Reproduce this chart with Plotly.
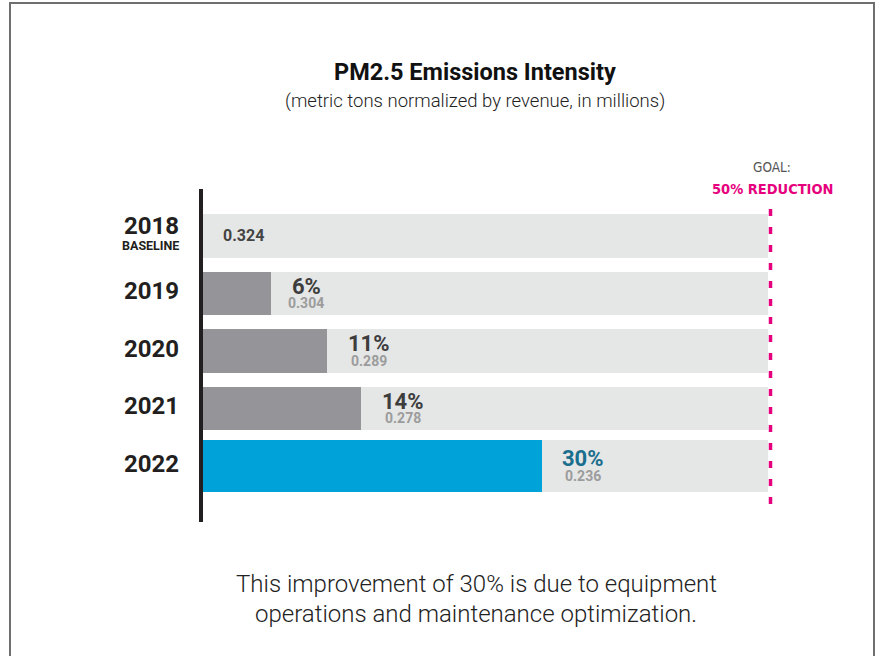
import plotly.graph_objects as go

# ---- data ----
years = ["2018", "2019", "2020", "2021", "2022"]
intensity = [0.324, 0.304, 0.289, 0.278, 0.236]      # metric tons / revenue ($M)
reduction_pct = [0, 6, 11, 14, 30]                   # % reduction vs 2018 baseline
goal_pct = 50                                        # target reduction
bar_width = [0.75, 0.75, 0.75, 0.75, 0.9]

# ---- styling ----
W, H = 876, 656
L, R, T, B = 203, 108, 189, 134
PW, PH = W - L - R, H - T - B

GREY_BAR = "#959499"
TRACK = "#e5e6e6"
BLUE = "#00a3d9"
PINK = "#e6007e"
DARK = "#231f20"
LABEL = "#3d3d3d"
VALUE = "#9c9c9c"
FONT = "Roboto, 'Open Sans', sans-serif"
NARROW = "'Liberation Sans Narrow', 'Arial Narrow', 'DejaVu Sans Condensed', sans-serif"


def px(xp, yp):
    """Convert page pixels to paper coordinates."""
    return (xp - L) / PW, (H - B - yp) / PH


fig = go.Figure()

# goal track (full 50% reduction)
fig.add_trace(go.Bar(
    y=years, x=[goal_pct] * len(years), width=bar_width, orientation="h",
    marker=dict(color=TRACK, line=dict(width=0)), hoverinfo="skip", showlegend=False,
))

# achieved reduction
colors = [GREY_BAR] * (len(years) - 1) + [BLUE]
fig.add_trace(go.Bar(
    y=years, x=reduction_pct, width=bar_width, orientation="h",
    marker=dict(color=colors, line=dict(width=0)), showlegend=False,
    customdata=intensity,
    hovertemplate="%{y}: %{x}% (%{customdata})<extra></extra>",
))

ann = []

# baseline value inside the track (category axis -> use the category index)
ann.append(dict(x=0, y=0, xref="x", yref="y", text=f"<b>{intensity[0]:.3f}</b>",
                xanchor="left", yanchor="middle", xshift=18, showarrow=False,
                font=dict(family=FONT, size=16, color="#444444")))

# percentage + intensity labels past each bar end
for i in range(1, len(years)):
    pct_txt = f"{reduction_pct[i]}%"
    pct_w = 22 * (0.562 * (len(pct_txt) - 1) + 0.73)
    pct_col = "#1b6f8e" if i == len(years) - 1 else LABEL
    ann.append(dict(x=reduction_pct[i], y=i, xref="x", yref="y",
                    text=f"<b>{pct_txt}</b>", xanchor="center", yanchor="middle",
                    xshift=21 + pct_w / 2, yshift=7, showarrow=False,
                    font=dict(family=FONT, size=22, color=pct_col)))
    ann.append(dict(x=reduction_pct[i], y=i, xref="x", yref="y",
                    text=f"<b>{intensity[i]:.3f}</b>", xanchor="center", yanchor="middle",
                    xshift=21 + pct_w / 2, yshift=-10, showarrow=False,
                    font=dict(family=FONT, size=14, color=VALUE)))

# year labels
for i, yr in enumerate(years):
    ann.append(dict(x=0, y=i, xref="x", yref="y", text=f"<b>{yr}</b>",
                    xanchor="right", yanchor="middle", xshift=-22,
                    yshift=9.5 if i == 0 else 2, showarrow=False,
                    font=dict(family=FONT, size=24, color=DARK)))
ann.append(dict(x=0, y=0, xref="x", yref="y", text="<b>BASELINE</b>",
                xanchor="right", yanchor="middle", xshift=-22, yshift=-9.5, showarrow=False,
                font=dict(family=FONT, size=12.5, color=DARK)))

# goal header
gx, gy = px(0, 166.5)
ann.append(dict(x=goal_pct, y=gy, xref="x", yref="paper", text="GOAL:",
                xanchor="center", yanchor="middle", xshift=4, showarrow=False,
                font=dict(family=NARROW, size=13.5, color="#555555")))
gx, gy = px(0, 188.5)
ann.append(dict(x=goal_pct, y=gy, xref="x", yref="paper", text=f"<b>{goal_pct}% REDUCTION</b>",
                xanchor="center", yanchor="middle", xshift=4, showarrow=False,
                font=dict(family=NARROW, size=14.5, color=PINK)))

# title and subtitle
tx, ty = px(475, 72.5)
ann.append(dict(x=tx, y=ty, xref="paper", yref="paper", text="<b>PM2.5 Emissions Intensity</b>",
                xanchor="center", yanchor="middle", showarrow=False,
                font=dict(family=FONT, size=23.5, color="#111111")))
tx, ty = px(475, 101)
ann.append(dict(x=tx, y=ty, xref="paper", yref="paper",
                text="(metric tons normalized by revenue, in millions)",
                xanchor="center", yanchor="middle", showarrow=False,
                font=dict(family=FONT, size=18.5, color="#222222", weight=300)))

# footnote
tx, ty = px(476, 583.5)
ann.append(dict(x=tx, y=ty, xref="paper", yref="paper",
                text="This improvement of 30% is due to equipment",
                xanchor="center", yanchor="middle", showarrow=False,
                font=dict(family=FONT, size=24, color="#222222", weight=300)))
tx, ty = px(476, 614)
ann.append(dict(x=tx, y=ty, xref="paper", yref="paper",
                text="operations and maintenance optimization.",
                xanchor="center", yanchor="middle", showarrow=False,
                font=dict(family=FONT, size=24, color="#222222", weight=300)))

shapes = []
# dashed goal line, just right of the track end
_, gtop = px(0, 207)
_, gbot = px(0, 504)
shapes.append(dict(type="line", xref="paper", yref="paper",
                   x0=1 + 2.5 / PW, x1=1 + 2.5 / PW, y0=gbot, y1=gtop,
                   line=dict(color=PINK, width=3.5, dash="7px,11px"), layer="above"))
# outer frame
fx0, fy0 = px(10, 3)
fx1, fy1 = px(874, 700)
shapes.append(dict(type="rect", xref="paper", yref="paper", x0=fx0, x1=fx1, y0=fy1, y1=fy0,
                   line=dict(color="#6f6f6f", width=2), fillcolor="rgba(0,0,0,0)", layer="above"))

fig.update_layout(
    width=W, height=H,
    margin=dict(l=L, r=R, t=T, b=B, pad=0),
    paper_bgcolor="white", plot_bgcolor="white",
    barmode="overlay", bargap=0,
    xaxis=dict(range=[0, goal_pct], visible=False, fixedrange=True),
    yaxis=dict(type="category", categoryorder="array", categoryarray=years,
               range=[4.974, -0.817], showticklabels=False, ticks="",
               showgrid=False, zeroline=False, showline=True,
               linecolor=DARK, linewidth=4, fixedrange=True),
    annotations=ann, shapes=shapes,
)

fig.write_html("out.html", config={"displayModeBar": False})
